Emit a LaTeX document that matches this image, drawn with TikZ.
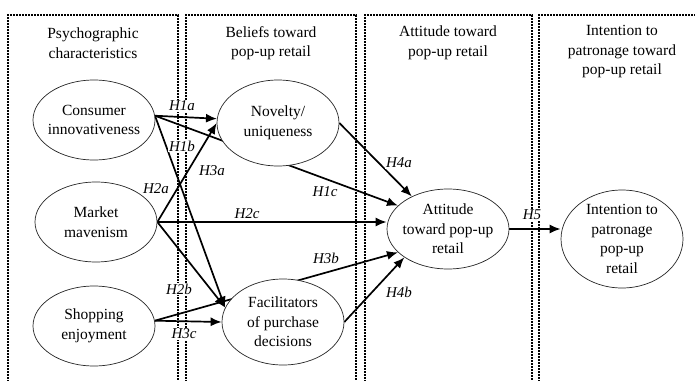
\documentclass[tikz,border=0pt]{standalone}
\usepackage{fontspec}
\setmainfont{Liberation Serif}
\usetikzlibrary{shapes.geometric,arrows.meta,backgrounds}
\begin{document}
\begin{tikzpicture}[x=1pt,y=-1pt,
  panel/.style={draw, line width=1.1pt, dash pattern=on 2pt off 1pt},
  construct/.style={ellipse, draw=black!85, line width=0.7pt, fill=white,
    minimum width=122pt, minimum height=80pt, inner sep=0pt},
  ctext/.style={align=center, inner sep=0pt, font=\fontsize{15.5}{19.5}\selectfont},
  title/.style={align=center, inner sep=0pt, font=\fontsize{15.5}{19.5}\selectfont},
  link/.style={line width=1.7pt, -{Latex[length=11pt,width=9pt]}},
  hyp/.style={fill=white, inner sep=1pt, font=\fontsize{15}{18}\selectfont\itshape}
]
\useasboundingbox (0,0) rectangle (695,380);

% constructs
\node[construct] (CI) at (94,120) {};
\node[ctext] (CIt) at (CI) {Consumer\\innovativeness};
\node[construct] (MM) at (96,222) {};
\node[ctext] (MMt) at (MM) {Market\\mavenism};
\node[construct] (SE) at (94,326) {};
\node[ctext] (SEt) at (SE) {Shopping\\enjoyment};
\node[construct, minimum height=86pt] (NU) at (278,123) {};
\node[ctext] (NUt) at (NU) {Novelty/\\uniqueness};
\node[construct, minimum height=86pt] (FPD) at (283,322) {};
\node[ctext] (FPDt) at (FPD) {Facilitators\\of purchase\\decisions};
\node[construct] (ATT) at (448,229) {};
\node[ctext] (ATTt) at (ATT) {Attitude\\toward pop-up\\retail};
\node[construct, minimum height=98pt] (INT) at (622,239) {};
\node[ctext] (INTt) at (INT) {Intention to\\patronage\\pop-up\\retail};

% column headings
\node[title] (T1) at (93,43) {Psychographic\\characteristics};
\node[title] (T2) at (271,43) {Beliefs toward\\pop-up retail};
\node[title] (T3) at (448,43) {Attitude toward\\pop-up retail};
\node[title] (T4) at (622,52) {Intention to\\patronage toward\\pop-up retail};

\begin{scope}[on background layer]
  % dashed column frames, open at the bottom
  \draw[panel] (8,382) -- (8,15) -- (178,15) -- (178,382);
  \draw[panel] (186,382) -- (186,15) -- (356,15) -- (356,382);
  \draw[panel] (365,382) -- (365,15) -- (532,15) -- (532,382);
  \draw[panel] (539,382) -- (539,15) -- (698,15);

  % hypothesised paths
  \draw[link] (CI.4) -- (NU.176);
  \draw[link] (CI.4) -- (FPD.166);
  \draw[link] (CI.4) -- (ATT.155);
  \draw[link] (MM.east) -- (NU.180);
  \draw[link] (MM.east) -- (FPD.166);
  \draw[link] (MM.east) -- (MM.east -| ATT.west);
  \draw[link] (SE.5) -- (FPD.west);
  \draw[link] (SE.5) -- (ATT.205);
  \draw[link] (NU.east) -- (ATT.138);
  \draw[link] (FPD.east) -- (ATT.213);
  \draw[link] (ATT.east) -- (ATT.east -| INT.west);
\end{scope}

% hypothesis labels
\node[hyp] (h1a) at (182,106) {H1a};
\node[hyp] (h1b) at (182,146) {H1b};
\node[hyp] (h1c) at (325,192) {H1c};
\node[hyp] (h2a) at (156,189) {H2a};
\node[hyp] (h2b) at (179,289) {H2b};
\node[hyp] (h2c) at (247,214) {H2c};
\node[hyp] (h3a) at (212,171) {H3a};
\node[hyp] (h3b) at (326,258) {H3b};
\node[hyp] (h3c) at (184,334) {H3c};
\node[hyp] (h4a) at (399,163) {H4a};
\node[hyp] (h4b) at (399,292) {H4b};
\node[hyp] (h5) at (532,215) {H5};
\end{tikzpicture}
\end{document}
